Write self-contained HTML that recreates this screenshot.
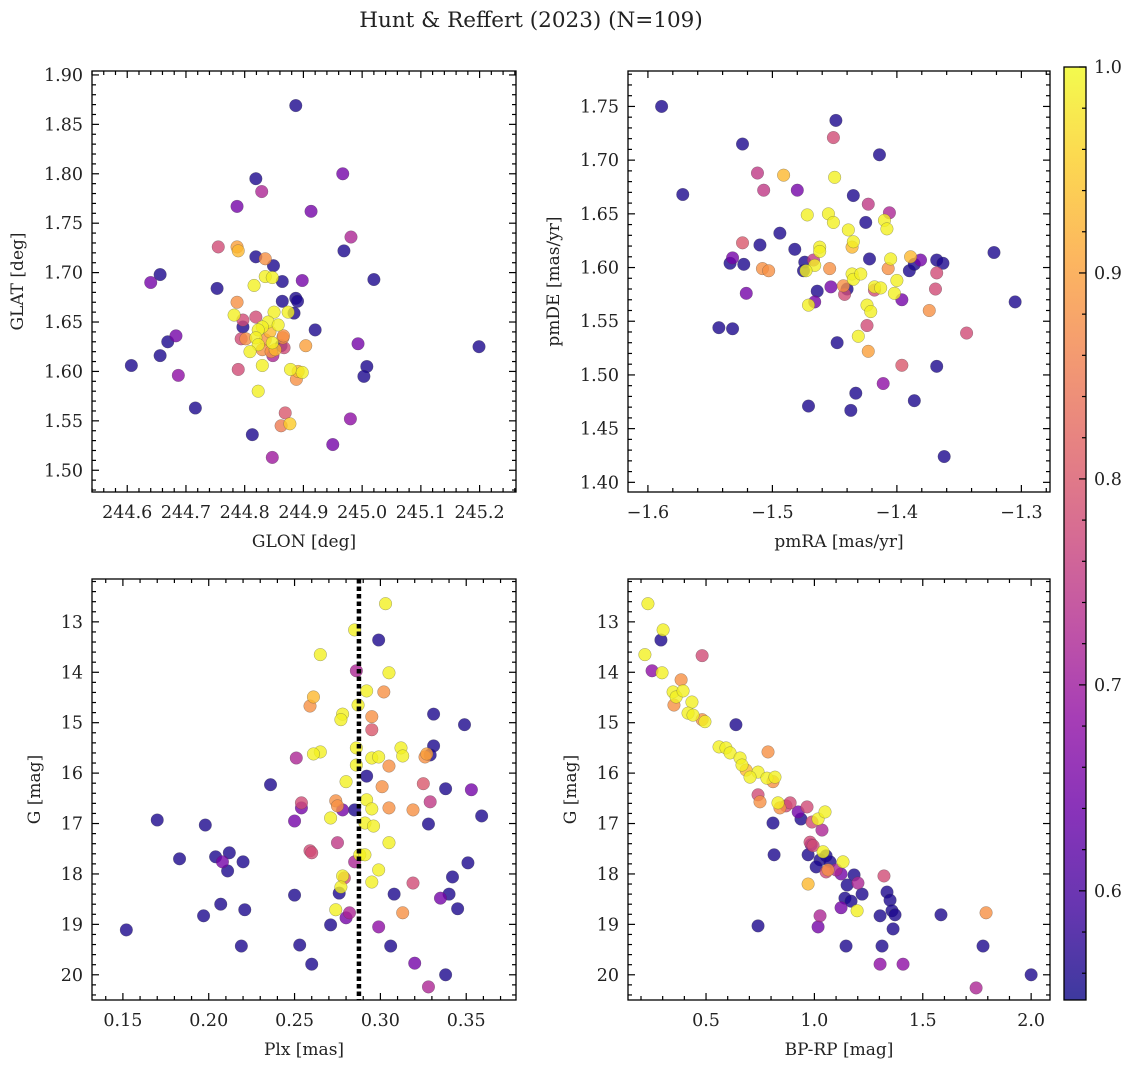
<!DOCTYPE html>
<html><head><meta charset="utf-8">
<style>
html,body{margin:0;padding:0;background:#fff;}
svg{display:block;font-family:"DejaVu Serif","Liberation Serif",serif;}
</style></head>
<body>
<svg id="fig" width="1136" height="1067" viewBox="0 0 1136 1067" xmlns="http://www.w3.org/2000/svg">
<text x="531" y="27" font-size="21.5" text-anchor="middle" fill="#222">Hunt &amp; Reffert (2023) (N=109)</text>
</svg>
<script>
// ---------- DATA ----------
const p1Glon=[244.887,244.819,244.967,244.787,244.913,244.829,244.755,244.787,244.789,244.819,244.835,244.981,244.969,244.656,244.640,244.849,244.835,244.847,244.864,244.898,245.020,244.753,244.816,244.887,244.864,244.787,244.890,244.850,244.874,244.782,244.884,244.819,244.797,244.840,244.830,244.823,244.843,244.857,244.819,244.835,244.847,244.823,244.865,244.809,244.830,244.852,244.867,244.920,244.797,244.866,244.683,244.669,244.794,244.802,244.607,244.656,244.687,244.789,244.904,244.862,244.845,244.848,244.830,244.878,244.891,244.898,244.888,244.823,245.008,244.993,245.003,245.199,244.716,244.869,244.980,244.862,244.877,244.813,244.950,244.847];
const p1Glat=[1.869,1.795,1.800,1.767,1.762,1.782,1.726,1.726,1.722,1.716,1.714,1.736,1.722,1.698,1.690,1.707,1.696,1.695,1.691,1.692,1.693,1.684,1.687,1.674,1.671,1.670,1.671,1.660,1.660,1.657,1.659,1.655,1.652,1.650,1.645,1.642,1.640,1.647,1.634,1.632,1.629,1.627,1.634,1.620,1.622,1.622,1.624,1.642,1.645,1.636,1.636,1.630,1.633,1.633,1.606,1.616,1.596,1.602,1.626,1.626,1.620,1.616,1.606,1.602,1.600,1.599,1.592,1.580,1.605,1.628,1.595,1.625,1.563,1.558,1.552,1.545,1.547,1.536,1.526,1.513];
const p1Prob=[.56,.56,.65,.65,.65,.72,.78,.9,.93,.56,.88,.72,.56,.56,.65,.56,.99,.99,.56,.65,.56,.56,.99,.56,.56,.88,.56,.99,.99,.99,.56,.78,.78,.99,.99,.99,.93,.99,.99,.88,.99,.99,.88,.99,.88,.93,.78,.56,.56,.88,.65,.56,.78,.88,.56,.56,.68,.78,.9,.56,.88,.72,.99,.99,.93,.99,.88,.99,.56,.65,.56,.56,.56,.8,.68,.85,.95,.56,.65,.7];

const p2Pmra=[-1.589,-1.572,-1.524,-1.449,-1.451,-1.414,-1.512,-1.491,-1.450,-1.507,-1.480,-1.435,-1.423,-1.406,-1.455,-1.472,-1.494,-1.425,-1.451,-1.439,-1.410,-1.408,-1.524,-1.510,-1.482,-1.435,-1.436,-1.462,-1.405,-1.422,-1.462,-1.467,-1.466,-1.474,-1.475,-1.473,-1.532,-1.523,-1.508,-1.503,-1.534,-1.454,-1.436,-1.435,-1.429,-1.443,-1.442,-1.453,-1.418,-1.413,-1.390,-1.400,-1.386,-1.381,-1.389,-1.368,-1.363,-1.368,-1.369,-1.402,-1.418,-1.424,-1.421,-1.464,-1.440,-1.396,-1.521,-1.466,-1.374,-1.407,-1.471,-1.543,-1.532,-1.424,-1.431,-1.423,-1.448,-1.322,-1.305,-1.344,-1.396,-1.411,-1.368,-1.433,-1.471,-1.437,-1.386,-1.362];
const p2Pmde=[1.750,1.668,1.715,1.737,1.721,1.705,1.688,1.686,1.684,1.672,1.672,1.667,1.659,1.651,1.650,1.649,1.632,1.642,1.642,1.635,1.644,1.636,1.623,1.621,1.617,1.624,1.619,1.619,1.608,1.608,1.615,1.607,1.602,1.605,1.597,1.597,1.609,1.603,1.599,1.597,1.604,1.599,1.594,1.589,1.594,1.583,1.575,1.582,1.582,1.581,1.597,1.588,1.603,1.607,1.610,1.607,1.604,1.595,1.580,1.576,1.579,1.565,1.559,1.578,1.580,1.570,1.576,1.568,1.560,1.599,1.565,1.544,1.543,1.546,1.536,1.522,1.530,1.614,1.568,1.539,1.509,1.492,1.508,1.483,1.471,1.467,1.476,1.424];
const p2Prob=[.56,.56,.56,.56,.78,.56,.75,.93,.99,.75,.65,.56,.75,.72,.99,.99,.56,.56,.99,.99,.99,.99,.8,.56,.56,.99,.93,.99,.99,.56,.99,.75,.99,.56,.56,.99,.65,.56,.88,.88,.56,.88,.99,.99,.99,.88,.78,.65,.99,.99,.56,.99,.56,.65,.93,.56,.56,.78,.78,.99,.78,.99,.99,.56,.56,.65,.65,.65,.88,.88,.99,.56,.56,.78,.99,.9,.56,.56,.56,.78,.8,.68,.56,.56,.56,.56,.56,.56];

const p3Plx=[0.303,0.285,0.299,0.265,0.286,0.305,0.302,0.292,0.261,0.287,0.259,0.278,0.277,0.295,0.331,0.349,0.295,0.286,0.312,0.313,0.327,0.326,0.265,0.261,0.331,0.329,0.295,0.299,0.286,0.305,0.251,0.236,0.292,0.280,0.301,0.338,0.353,0.325,0.274,0.275,0.292,0.254,0.254,0.278,0.285,0.295,0.305,0.329,0.319,0.291,0.296,0.271,0.170,0.359,0.250,0.198,0.275,0.305,0.328,0.259,0.260,0.288,0.291,0.183,0.204,0.212,0.208,0.220,0.285,0.351,0.211,0.278,0.299,0.295,0.319,0.279,0.277,0.342,0.340,0.308,0.250,0.207,0.221,0.276,0.274,0.282,0.280,0.313,0.335,0.345,0.299,0.152,0.271,0.197,0.219,0.253,0.306,0.260,0.320,0.338,0.328];
const p3G=[12.64,13.16,13.36,13.65,13.97,14.01,14.39,14.37,14.49,14.65,14.67,14.83,14.94,14.88,14.83,15.04,15.14,15.50,15.50,15.66,15.62,15.68,15.58,15.62,15.46,15.64,15.70,15.68,15.84,15.86,15.70,16.23,16.06,16.17,16.27,16.31,16.33,16.21,16.55,16.65,16.53,16.59,16.69,16.73,16.73,16.71,16.69,16.57,16.73,16.99,17.05,16.89,16.93,16.85,16.95,17.03,17.38,17.38,17.01,17.54,17.58,17.62,17.62,17.70,17.66,17.58,17.76,17.76,17.76,17.78,17.94,18.04,17.92,18.16,18.18,18.08,18.26,18.06,18.40,18.40,18.42,18.60,18.71,18.38,18.71,18.77,18.87,18.77,18.48,18.69,19.05,19.11,19.01,18.83,19.43,19.41,19.43,19.79,19.77,20.00,20.24];
const p3Prob=[.99,.99,.56,.99,.72,.99,.88,.99,.93,.99,.88,.99,.99,.88,.56,.56,.8,.99,.99,.99,.9,.88,.99,.99,.56,.56,.99,.99,.99,.88,.72,.56,.56,.99,.88,.56,.65,.8,.88,.88,.99,.78,.65,.65,.56,.99,.88,.75,.88,.99,.99,.99,.56,.56,.65,.56,.75,.99,.56,.78,.78,.99,.99,.56,.56,.56,.65,.56,.72,.56,.56,.99,.99,.99,.78,.78,.99,.56,.56,.56,.56,.56,.56,.56,.99,.72,.65,.88,.65,.56,.68,.56,.56,.56,.56,.56,.56,.56,.65,.56,.72];
const p3MedianPlx=0.2875;

const p4Color=[0.232,0.302,0.218,0.292,0.251,0.297,0.348,0.385,0.362,0.394,0.435,0.352,0.417,0.440,0.482,0.495,0.482,0.638,0.560,0.592,0.611,0.657,0.666,0.685,0.740,0.781,0.809,0.818,0.786,0.703,0.832,0.841,0.869,0.888,0.925,0.966,0.989,1.017,1.049,0.938,0.740,0.749,0.809,1.035,0.980,0.994,1.040,1.054,1.026,1.008,1.072,1.100,1.054,0.971,0.985,0.814,1.132,0.971,1.123,1.063,1.183,1.151,1.201,1.220,1.141,1.123,1.197,1.169,1.321,1.335,1.349,1.358,1.303,1.372,0.740,1.026,1.017,1.363,1.792,1.584,1.146,1.312,1.303,1.409,1.778,1.746,2.000];
const p4G=[12.64,13.16,13.65,13.36,13.97,14.01,14.39,14.15,14.49,14.37,14.59,14.65,14.81,14.85,14.94,14.98,13.67,15.04,15.48,15.50,15.60,15.70,15.84,15.94,15.98,16.10,16.17,16.08,15.58,16.08,16.59,16.69,16.65,16.59,16.77,16.67,16.97,16.91,16.77,16.91,16.43,16.57,16.99,17.13,17.37,17.44,17.56,17.64,17.72,17.86,17.76,17.92,17.96,17.62,17.42,17.62,17.76,18.20,18.00,17.92,18.02,18.22,18.18,18.40,18.48,18.67,18.73,18.54,18.04,18.36,18.52,18.73,18.83,18.81,19.03,18.83,19.05,19.09,18.77,18.81,19.43,19.43,19.79,19.79,19.43,20.26,20.00];
const p4Prob=[.99,.99,.99,.56,.68,.99,.99,.88,.99,.99,.99,.88,.99,.99,.88,.99,.78,.56,.99,.99,.99,.99,.99,.93,.99,.99,.88,.99,.88,.99,.99,.88,.78,.78,.65,.78,.78,.99,.99,.56,.78,.88,.56,.72,.78,.78,.99,.56,.56,.56,.56,.72,.78,.56,.65,.56,.99,.93,.65,.88,.56,.56,.72,.56,.56,.65,.99,.56,.78,.56,.56,.56,.56,.56,.56,.72,.65,.56,.88,.56,.56,.56,.68,.68,.56,.72,.56];

const cbTicks=[0.6,0.7,0.8,0.9,1.0];
const cbMin=0.547, cbMax=1.0;

// ---------- HELPERS ----------
const NS="http://www.w3.org/2000/svg";
const svg=document.getElementById('fig');
function mk(tag,attrs,parent){const e=document.createElementNS(NS,tag);for(const k in attrs)e.setAttribute(k,attrs[k]);(parent||svg).appendChild(e);return e;}
const plasma=["#0d0887","#41049d","#6a00a8","#8f0da4","#b12a90","#cc4778","#e16462","#f2844b","#fca636","#fcce25","#f0f921"];
function hx(h){return [parseInt(h.substr(1,2),16),parseInt(h.substr(3,2),16),parseInt(h.substr(5,2),16)];}
function cmap(p){let t=(p-cbMin)/(cbMax-cbMin);t=Math.max(0,Math.min(1,t));const f=t*10,i=Math.min(9,Math.floor(f)),r=f-i;const a=hx(plasma[i]),b=hx(plasma[i+1]);return 'rgb('+a.map((v,k)=>Math.round(v+(b[k]-v)*r)).join(',')+')';}
function fmt(v,d){const s=Math.abs(v).toFixed(d);return (v<-1e-9?'\u2212':'')+s;}
const FS=17.5;

function panel(cfg){
  const g=mk('g',{});
  
  
  const X=v=>cfg.x0+(v-cfg.xmin)/(cfg.xmax-cfg.xmin)*(cfg.x1-cfg.x0);
  const Y=cfg.yinv?(v=>cfg.y0+(v-cfg.ymin)/(cfg.ymax-cfg.ymin)*(cfg.y1-cfg.y0)):(v=>cfg.y1-(v-cfg.ymin)/(cfg.ymax-cfg.ymin)*(cfg.y1-cfg.y0));
  const pg=mk('g',{},g);
  
  
  const order=cfg.xs.map((_,i)=>i).sort((a,b)=>cfg.ps[a]-cfg.ps[b]);
  for(const i of order){
    const c=mk('circle',{cx:X(cfg.xs[i]),cy:Y(cfg.ys[i]),r:6.3,fill:cmap(cfg.ps[i]),'fill-opacity':0.8,stroke:'#444','stroke-opacity':0.5,'stroke-width':0.5},pg);
    
    
  }
  if(cfg.extra)cfg.extra(g,X,Y);
  const fr=mk('rect',{x:cfg.x0,y:cfg.y0,width:cfg.x1-cfg.x0,height:cfg.y1-cfg.y0,fill:'none',stroke:'#000','stroke-width':1.3},g);
  
  
  const tg=mk('g',{stroke:'#000','stroke-width':1.2},g);
  
  
  const eps=1e-9;
  for(let k=Math.ceil(cfg.xmin/cfg.xminor-eps);k*cfg.xminor<=cfg.xmax+eps;k++){
    const v=k*cfg.xminor,px=X(v);const major=Math.abs(v/cfg.xmajor-Math.round(v/cfg.xmajor))<1e-6;const L=major?7:4;
    mk('line',{x1:px,x2:px,y1:cfg.y1,y2:cfg.y1-L},tg);mk('line',{x1:px,x2:px,y1:cfg.y0,y2:cfg.y0+L},tg);
    if(major){const t=mk('text',{x:px,y:cfg.y1+26,'font-size':FS,'text-anchor':'middle',stroke:'none',fill:'#222'},g);t.textContent=cfg.xfmt(v);
      }
  }
  for(let k=Math.ceil(cfg.ymin/cfg.yminor-eps);k*cfg.yminor<=cfg.ymax+eps;k++){
    const v=k*cfg.yminor,py=Y(v);const major=Math.abs(v/cfg.ymajor-Math.round(v/cfg.ymajor))<1e-6;const L=major?7:4;
    mk('line',{y1:py,y2:py,x1:cfg.x0,x2:cfg.x0+L},tg);mk('line',{y1:py,y2:py,x1:cfg.x1,x2:cfg.x1-L},tg);
    if(major){const t=mk('text',{x:cfg.x0-9,y:py+6,'font-size':FS,'text-anchor':'end',stroke:'none',fill:'#222'},g);t.textContent=cfg.yfmt(v);
      }
  }
  const xl=mk('text',{x:(cfg.x0+cfg.x1)/2,y:cfg.y1+55,'font-size':17,'text-anchor':'middle',fill:'#222'},g);xl.textContent=cfg.xlabel;
  
  const yl=mk('text',{x:0,y:0,'font-size':17,'text-anchor':'middle',fill:'#222',transform:'translate('+cfg.ylx+','+(cfg.y0+cfg.y1)/2+') rotate(-90)'},g);yl.textContent=cfg.ylabel;
  
}

panel({name:'glon-glat-panel',x0:92,x1:516,y0:71,y1:492,xmin:244.540,xmax:245.262,ymin:1.478,ymax:1.904,
  xs:p1Glon,ys:p1Glat,ps:p1Prob,xmajor:0.1,xminor:0.02,ymajor:0.05,yminor:0.01,
  xfmt:v=>v.toFixed(1),yfmt:v=>v.toFixed(2),xlabel:'GLON [deg]',ylabel:'GLAT [deg]',ylx:23});
panel({name:'proper-motion-panel',x0:628,x1:1050,y0:71,y1:492,xmin:-1.616,xmax:-1.277,ymin:1.391,ymax:1.783,
  xs:p2Pmra,ys:p2Pmde,ps:p2Prob,xmajor:0.1,xminor:0.02,ymajor:0.05,yminor:0.01,
  xfmt:v=>fmt(v,1),yfmt:v=>v.toFixed(2),xlabel:'pmRA [mas/yr]',ylabel:'pmDE [mas/yr]',ylx:559});
panel({name:'parallax-magnitude-panel',x0:92,x1:516,y0:579,y1:1000,xmin:0.132,xmax:0.379,ymin:12.15,ymax:20.5,yinv:true,
  xs:p3Plx,ys:p3G,ps:p3Prob,xmajor:0.05,xminor:0.01,ymajor:1,yminor:0.2,
  xfmt:v=>v.toFixed(2),yfmt:v=>v.toFixed(0),xlabel:'Plx [mas]',ylabel:'G [mag]',ylx:40,
  extra:(g,X,Y)=>{const l=mk('line',{x1:X(p3MedianPlx),x2:X(p3MedianPlx),y1:579,y2:1000,stroke:'#000','stroke-width':4.5,'stroke-dasharray':'4.5,3'},g);
    }});
panel({name:'cmd-panel',x0:628,x1:1050,y0:579,y1:1000,xmin:0.140,xmax:2.087,ymin:12.15,ymax:20.5,yinv:true,
  xs:p4Color,ys:p4G,ps:p4Prob,xmajor:0.5,xminor:0.1,ymajor:1,yminor:0.2,
  xfmt:v=>v.toFixed(1),yfmt:v=>v.toFixed(0),xlabel:'BP-RP [mag]',ylabel:'G [mag]',ylx:576});

// ---------- COLORBAR ----------
(function(){
  const x0=1064,x1=1086,y0=67,y1=1000;
  const g=mk('g',{});
  
  
  const defs=mk('defs',{},g);
  const lg=mk('linearGradient',{id:'cbg',x1:0,y1:1,x2:0,y2:0},defs);
  plasma.forEach((c,i)=>mk('stop',{offset:(i/10),'stop-color':c,'stop-opacity':0.8},lg));
  mk('rect',{x:x0,y:y0,width:x1-x0,height:y1-y0,fill:'#fff'},g);
  mk('rect',{x:x0,y:y0,width:x1-x0,height:y1-y0,fill:'url(#cbg)',stroke:'#000','stroke-width':1.3},g);
  const Y=v=>y1-(v-cbMin)/(cbMax-cbMin)*(y1-y0);
  for(let k=28;k<=50;k++){const v=k*0.02;if(v<cbMin||v>cbMax+1e-9)continue;const py=Y(v);const major=Math.abs(v*10-Math.round(v*10))<1e-6;
    mk('line',{x1:x1,x2:x1-(major?7:4),y1:py,y2:py,stroke:'#000','stroke-width':1.2},g);}
  cbTicks.forEach(v=>{const t=mk('text',{x:x1+8,y:Y(v)+6,'font-size':FS,fill:'#222'},g);t.textContent=v.toFixed(1);
    });
})();
</script>
</body></html>
